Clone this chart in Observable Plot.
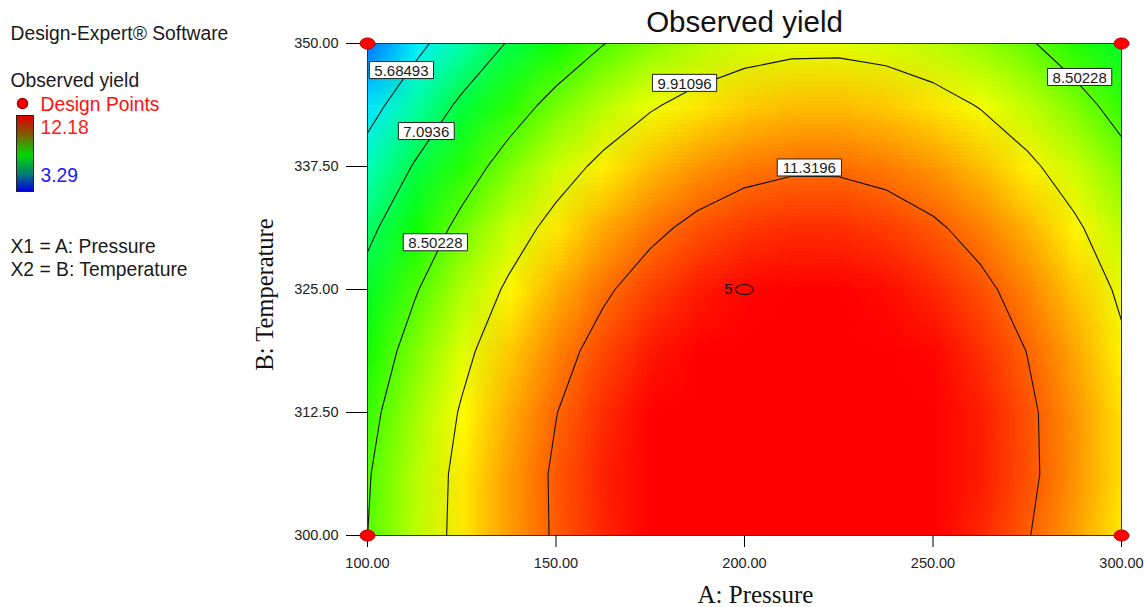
<!DOCTYPE html>
<html><head><meta charset="utf-8">
<script src="https://cdn.jsdelivr.net/npm/d3@7"></script>
<script src="https://cdn.jsdelivr.net/npm/@observablehq/plot@0.6"></script>
<style>
html,body{margin:0;padding:0;background:#fff;}
#wrap{position:relative;width:1144px;height:607px;overflow:hidden;}
#bar{position:absolute;left:16px;top:115px;width:16px;height:75px;border:1px solid #222;
 background:linear-gradient(to bottom,#e00000 0%,#8a5000 22%,#00d800 52%,#007a7a 78%,#0000e0 100%);}
</style></head>
<body><div id="wrap"><div id="bar"></div></div>
<script>
// ---- data ----
const pressure = [100, 112.5, 125, 137.5, 150, 162.5, 175, 187.5, 200, 212.5, 225, 237.5, 250, 262.5, 275, 287.5, 300];
const temperature = [350, 343.75, 337.5, 331.25, 325, 318.75, 312.5, 306.25, 300]; // rows, top to bottom
const yieldT350    = [4.321, 5.386, 6.333, 7.165, 7.880, 8.478, 8.959, 9.324, 9.572, 9.704, 9.719, 9.617, 9.399, 9.064, 8.612, 8.044, 7.359];
const yieldT343_75 = [5.298, 6.340, 7.267, 8.079, 8.775, 9.357, 9.823, 10.174, 10.410, 10.532, 10.538, 10.429, 10.204, 9.865, 9.411, 8.841, 8.157];
const yieldT337_5  = [6.146, 7.165, 8.070, 8.862, 9.540, 10.105, 10.557, 10.895, 11.119, 11.229, 11.227, 11.110, 10.880, 10.537, 10.080, 9.509, 8.825];
const yieldT331_25 = [6.863, 7.859, 8.744, 9.516, 10.176, 10.724, 11.161, 11.485, 11.697, 11.797, 11.786, 11.662, 11.426, 11.078, 10.618, 10.047, 9.363];
const yieldT325    = [7.451, 8.424, 9.287, 10.040, 10.682, 11.213, 11.635, 11.945, 12.146, 12.235, 12.215, 12.083, 11.842, 11.490, 11.027, 10.454, 9.771];
const yieldT318_75 = [7.908, 8.859, 9.700, 10.433, 11.057, 11.572, 11.978, 12.276, 12.464, 12.543, 12.514, 12.375, 12.128, 11.771, 11.306, 10.732, 10.048];
const yieldT312_5  = [8.235, 9.163, 9.984, 10.697, 11.303, 11.801, 12.192, 12.476, 12.652, 12.721, 12.683, 12.537, 12.284, 11.923, 11.455, 10.879, 10.196];
const yieldT306_25 = [8.433, 9.338, 10.137, 10.831, 11.418, 11.900, 12.276, 12.546, 12.711, 12.769, 12.722, 12.568, 12.309, 11.944, 11.473, 10.897, 10.214];
const yieldT300    = [8.500, 9.382, 10.161, 10.835, 11.404, 11.869, 12.230, 12.487, 12.639, 12.687, 12.631, 12.470, 12.205, 11.836, 11.362, 10.784, 10.102];
const contourLevels = [5.68493, 7.0936, 8.50228, 9.91096, 11.3196];
const labelText = ["5.68493", "7.0936", "8.50228", "9.91096", "11.3196", "8.50228"];
const labelP = [109.0, 115.6, 118.0, 184.1, 217.2, 288.9];
const labelT = [347.3, 341.1, 329.8, 346.0, 337.4, 346.6];
const designP = [100, 100, 300, 300];
const designT = [300, 350, 300, 350];
const centerP = [200], centerT = [325], centerReps = [5];
const xTicks = [100, 150, 200, 250, 300];
const yTicks = [300, 312.5, 325, 337.5, 350];
const yieldRange = [3.29, 12.18];

// ---- build tables ----
const grid = [yieldT350, yieldT343_75, yieldT337_5, yieldT331_25, yieldT325, yieldT318_75, yieldT312_5, yieldT306_25, yieldT300].flat();
const nx = pressure.length, ny = temperature.length;
const dP = pressure[1] - pressure[0], dT = temperature[0] - temperature[1];
const gx1 = pressure[0] - dP / 2, gx2 = pressure[nx - 1] + dP / 2;
const gy1 = temperature[0] + dT / 2, gy2 = temperature[ny - 1] - dT / 2;
const labels = labelText.map((t, i) => ({t, p: labelP[i], T: labelT[i]}));
const design = designP.map((p, i) => ({p, T: designT[i]}));
const center = centerP.map((p, i) => ({p, T: centerT[i], n: centerReps[i]}));
const [ymin, ymax] = yieldRange;
const stops = d3.range(5).map(i => ymin + i * (ymax - ymin) / 4);

const F = "Liberation Sans, Arial, sans-serif";
const S = "Liberation Serif, Times New Roman, serif";
const LFS = 15; // contour label font size
function boxSymbol(w, h) { return {draw(c) { c.rect(-w / 2, -h / 2, w, h); }}; }
function ellipseSymbol(rx, ry) {
  const k = 0.5523;
  return {draw(c) {
    c.moveTo(rx, 0);
    c.bezierCurveTo(rx, k * ry, k * rx, ry, 0, ry);
    c.bezierCurveTo(-k * rx, ry, -rx, k * ry, -rx, 0);
    c.bezierCurveTo(-rx, -k * ry, -k * rx, -ry, 0, -ry);
    c.bezierCurveTo(k * rx, -ry, rx, -k * ry, rx, 0);
    c.closePath();
  }};
}
const ML = 367, MT = 43;
function note(text, X, Y, opts = {}) {
  return Plot.text([text], {text: d => d, frameAnchor: "top-left", dx: X - ML, dy: Y - MT,
    textAnchor: "start", lineAnchor: "bottom", fontFamily: F, fontSize: 19.3, fill: "#1a1a1a", ...opts});
}

const chart = Plot.plot({
  width: 1144, height: 607,
  marginLeft: ML, marginRight: 23, marginTop: MT, marginBottom: 72,
  style: {fontFamily: F, background: "#fff", overflow: "visible"},
  x: {domain: [100, 300]},
  y: {domain: [300, 350]},
  color: {type: "linear", domain: stops, range: ["#0000ff", "#00ffff", "#00ff00", "#ffff00", "#ff0000"], interpolate: "rgb", clamp: true},
  marks: [
    Plot.raster(grid, {width: nx, height: ny, x1: gx1, x2: gx2, y1: gy1, y2: gy2, fill: Plot.identity, imageRendering: "auto", clip: true}),
    Plot.contour(grid, {width: nx, height: ny, x1: gx1, x2: gx2, y1: gy1, y2: gy2, value: Plot.identity,
      thresholds: contourLevels, fill: "none", stroke: "#111", strokeWidth: 1.1, clip: true}),
    Plot.frame({stroke: "#333", strokeWidth: 1}),
    Plot.axisX({ticks: xTicks, tickFormat: d => d.toFixed(2), tickSize: 12, tickPadding: 10, fontSize: 14.5, fill: "#222", label: null}),
    Plot.axisY({ticks: yTicks, tickFormat: d => d.toFixed(2), tickSize: 21, tickPadding: 8, fontSize: 14.5, fill: "#222", label: null}),
    ...labels.map(l => Plot.dot([l], {x: "p", y: "T",
      symbol: boxSymbol(LFS * ((l.t.length - 1) * 0.556 + 0.278) + 10, 17), fill: "white", stroke: "#222", strokeWidth: 1})),
    Plot.text(labels, {x: "p", y: "T", text: "t", fontFamily: F, fontSize: LFS, fill: "#1a1a1a", dy: 1}),
    Plot.dot(center, {x: "p", y: "T", symbol: ellipseSymbol(9, 5), fill: "none", stroke: "#111", strokeWidth: 1.2}),
    Plot.text(center, {x: "p", y: "T", text: d => String(d.n), dx: -16, fontFamily: F, fontSize: 15, fill: "#111"}),
    Plot.dot(design, {x: "p", y: "T", symbol: ellipseSymbol(7.5, 5.5), fill: "#ff0000", stroke: "#b00000", strokeWidth: 1}),
    // titles
    Plot.text(["Observed yield"], {text: d => d, frameAnchor: "top", dy: 31 - MT, textAnchor: "middle", lineAnchor: "bottom", fontFamily: F, fontSize: 29.5, fill: "#111"}),
    Plot.text(["A: Pressure"], {text: d => d, frameAnchor: "bottom", dx: 11, dy: 602 - 535, textAnchor: "middle", lineAnchor: "bottom", fontFamily: S, fontSize: 25, fill: "#111"}),
    Plot.text(["B: Temperature"], {text: d => d, frameAnchor: "left", dx: 272 - ML, dy: 5, rotate: -90, textAnchor: "middle", lineAnchor: "bottom", fontFamily: S, fontSize: 24.5, fill: "#111"}),
    // left legend
    note("Design-Expert® Software", 10, 39),
    note("Observed yield", 10, 86),
    Plot.dot([0], {frameAnchor: "top-left", dx: 22 - ML, dy: 103 - MT, r: 5, fill: "#ff0000", stroke: "#900"}),
    note("Design Points", 40, 110, {fill: "#ff1010"}),
    note(ymax.toFixed(2), 40, 133, {fill: "#ff1a1a"}),
    note(ymin.toFixed(2), 40, 181, {fill: "#2020ff"}),
    note("X1 = A: Pressure", 10, 252),
    note("X2 = B: Temperature", 10, 275)
  ]
});
chart.style.position = "absolute";
chart.style.left = "0px";
chart.style.top = "0px";
const wrap = document.getElementById("wrap");
wrap.insertBefore(chart, wrap.firstChild);
</script>
</body></html>
